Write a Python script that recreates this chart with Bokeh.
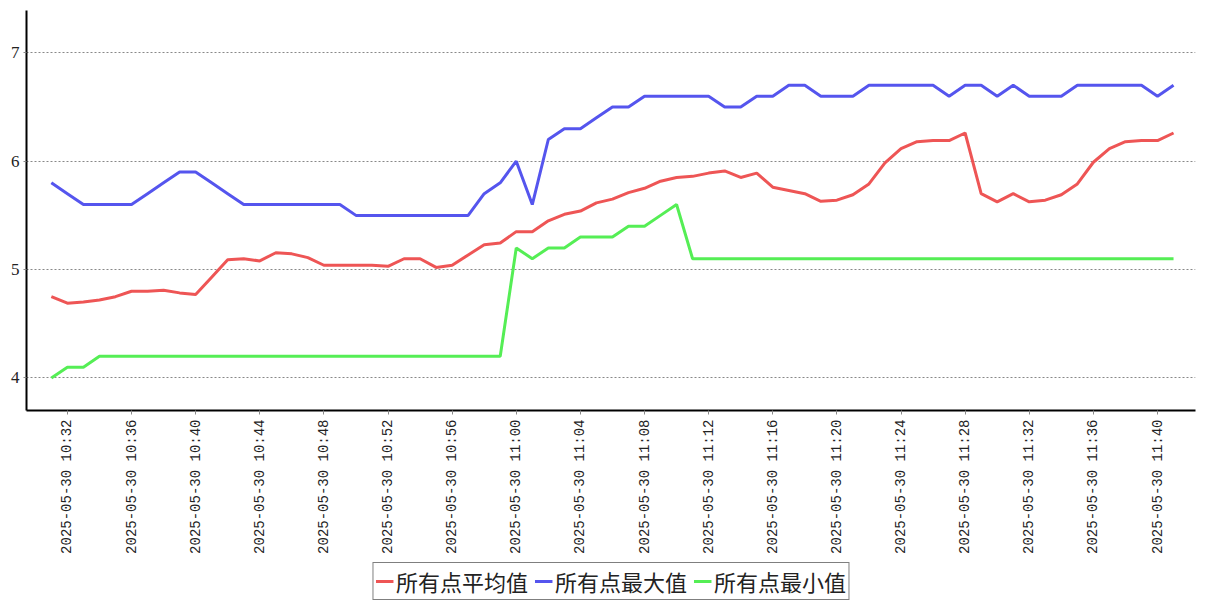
import math
from datetime import datetime, timedelta
from bokeh.plotting import figure
from bokeh.layouts import column
from bokeh.models import (FixedTicker, DatetimeTickFormatter, Range1d, Legend, LegendItem)
from bokeh.embed import file_html
from bokeh.resources import INLINE

start_time = "2025-05-30 10:31"
n_points = 71
avg_vals = [4.75, 4.69, 4.70, 4.72, 4.75, 4.80, 4.80, 4.81, 4.785, 4.77,
            4.93, 5.09, 5.10, 5.08, 5.155, 5.145, 5.11, 5.04, 5.04, 5.04,
            5.04, 5.03, 5.10, 5.10, 5.02, 5.04, 5.135, 5.23, 5.245, 5.35,
            5.35, 5.45, 5.51, 5.54, 5.615, 5.65, 5.71, 5.75, 5.815, 5.85,
            5.86, 5.89, 5.91, 5.85, 5.89, 5.76, 5.73, 5.70, 5.63, 5.64,
            5.69, 5.79, 5.985, 6.115, 6.18, 6.19, 6.19, 6.26, 5.70, 5.625,
            5.70, 5.625, 5.64, 5.69, 5.79, 5.99, 6.115, 6.18, 6.19, 6.19,
            6.26]
max_vals = [5.8, 5.7, 5.6, 5.6, 5.6, 5.6, 5.7, 5.8, 5.9, 5.9,
            5.8, 5.7, 5.6, 5.6, 5.6, 5.6, 5.6, 5.6, 5.6, 5.5,
            5.5, 5.5, 5.5, 5.5, 5.5, 5.5, 5.5, 5.7, 5.8, 6.0,
            5.6, 6.2, 6.3, 6.3, 6.4, 6.5, 6.5, 6.6, 6.6, 6.6,
            6.6, 6.6, 6.5, 6.5, 6.6, 6.6, 6.7, 6.7, 6.6, 6.6,
            6.6, 6.7, 6.7, 6.7, 6.7, 6.7, 6.6, 6.7, 6.7, 6.6,
            6.7, 6.6, 6.6, 6.6, 6.7, 6.7, 6.7, 6.7, 6.7, 6.6,
            6.7]
min_vals = [4.0, 4.1, 4.1, 4.2, 4.2, 4.2, 4.2, 4.2, 4.2, 4.2,
            4.2, 4.2, 4.2, 4.2, 4.2, 4.2, 4.2, 4.2, 4.2, 4.2,
            4.2, 4.2, 4.2, 4.2, 4.2, 4.2, 4.2, 4.2, 4.2, 5.2,
            5.1, 5.2, 5.2, 5.3, 5.3, 5.3, 5.4, 5.4, 5.5, 5.6,
            5.1, 5.1, 5.1, 5.1, 5.1, 5.1, 5.1, 5.1, 5.1, 5.1,
            5.1, 5.1, 5.1, 5.1, 5.1, 5.1, 5.1, 5.1, 5.1, 5.1,
            5.1, 5.1, 5.1, 5.1, 5.1, 5.1, 5.1, 5.1, 5.1, 5.1,
            5.1]
series_names = ["所有点平均值", "所有点最大值", "所有点最小值"]
series_colors = ["#ee5555", "#5555ee", "#55ee55"]
y_ticks = [4, 5, 6, 7]
tick_every_min = 4
first_tick = "2025-05-30 10:32"

t0 = datetime.strptime(start_time, "%Y-%m-%d %H:%M")
times = [t0 + timedelta(minutes=i) for i in range(n_points)]

def ms(dt):
    return (dt - datetime(1970, 1, 1)).total_seconds() * 1000.0

ft = datetime.strptime(first_tick, "%Y-%m-%d %H:%M")
x_ticks = []
t = ft
while t <= times[-1]:
    x_ticks.append(ms(t))
    t += timedelta(minutes=tick_every_min)

p = figure(width=1207, height=562, x_axis_type="datetime",
           output_backend="svg", toolbar_location=None,
           min_border_left=26, min_border_right=12, min_border_top=10, min_border_bottom=152)
p.x_range = Range1d(ms(times[0]) - 1.55 * 60000, ms(times[-1]) + 1.37 * 60000)
p.y_range = Range1d(3.70, 7.39)

for vals, c in zip([avg_vals, max_vals, min_vals], series_colors):
    p.line(times, vals, line_color=c, line_width=3)

p.outline_line_color = None
p.xgrid.grid_line_color = None
p.ygrid.grid_line_color = "#888888"
p.ygrid.grid_line_dash = "2 2"
p.ygrid.grid_line_width = 1

p.yaxis.ticker = FixedTicker(ticks=y_ticks)
p.yaxis.minor_tick_line_color = None
p.yaxis.major_tick_out = 3
p.yaxis.major_tick_in = 0
p.yaxis.major_tick_line_color = "#888888"
p.yaxis.axis_line_width = 2
p.yaxis.axis_line_color = "black"
p.yaxis.major_label_text_font = "Liberation Serif"
p.yaxis.major_label_text_font_size = "17px"
p.yaxis.major_label_text_color = "#222222"
p.yaxis.major_label_standoff = 4

p.xaxis.ticker = FixedTicker(ticks=x_ticks)
fmt = "%Y-%m-%d %H:%M"
p.xaxis.formatter = DatetimeTickFormatter(minutes=fmt, hours=fmt, hourmin=fmt, days=fmt,
                                          months=fmt, years=fmt, seconds=fmt, minsec=fmt,
                                          context=None)
p.xaxis.minor_tick_line_color = None
p.xaxis.major_tick_out = 4
p.xaxis.major_tick_in = 0
p.xaxis.major_tick_line_color = "#888888"
p.xaxis.axis_line_width = 2
p.xaxis.axis_line_color = "black"
p.xaxis.major_label_orientation = math.pi / 2
p.xaxis.major_label_text_font = "Liberation Mono"
p.xaxis.major_label_text_font_size = "14px"
p.xaxis.major_label_text_color = "#222222"
p.xaxis.major_label_standoff = 5

# legend strip (separate figure below the chart)
lg = figure(width=1207, height=38, output_backend="svg", toolbar_location=None,
            x_axis_location=None, y_axis_location=None,
            min_border_left=0, min_border_right=0, min_border_top=0, min_border_bottom=0,
            x_range=Range1d(0, 1), y_range=Range1d(0, 1))
lg.outline_line_color = None
lg.grid.visible = False
lg_renderers = [lg.line([-5, -4], [-5, -4], line_color=c, line_width=3) for c in series_colors]
items = [LegendItem(label=n, renderers=[r]) for n, r in zip(series_names, lg_renderers)]
legend = Legend(items=items, orientation="horizontal", location="center",
                border_line_color="black", border_line_width=1,
                label_text_font="Noto Sans CJK SC", label_text_font_size="22px",
                label_text_color="#222222", label_height=24,
                glyph_width=18, glyph_height=24, label_standoff=3, spacing=6,
                padding=2, margin=0, background_fill_alpha=1)
lg.add_layout(legend, "center")

layout = column(p, lg, spacing=0)
open("out.html", "w").write(file_html(layout, INLINE))
